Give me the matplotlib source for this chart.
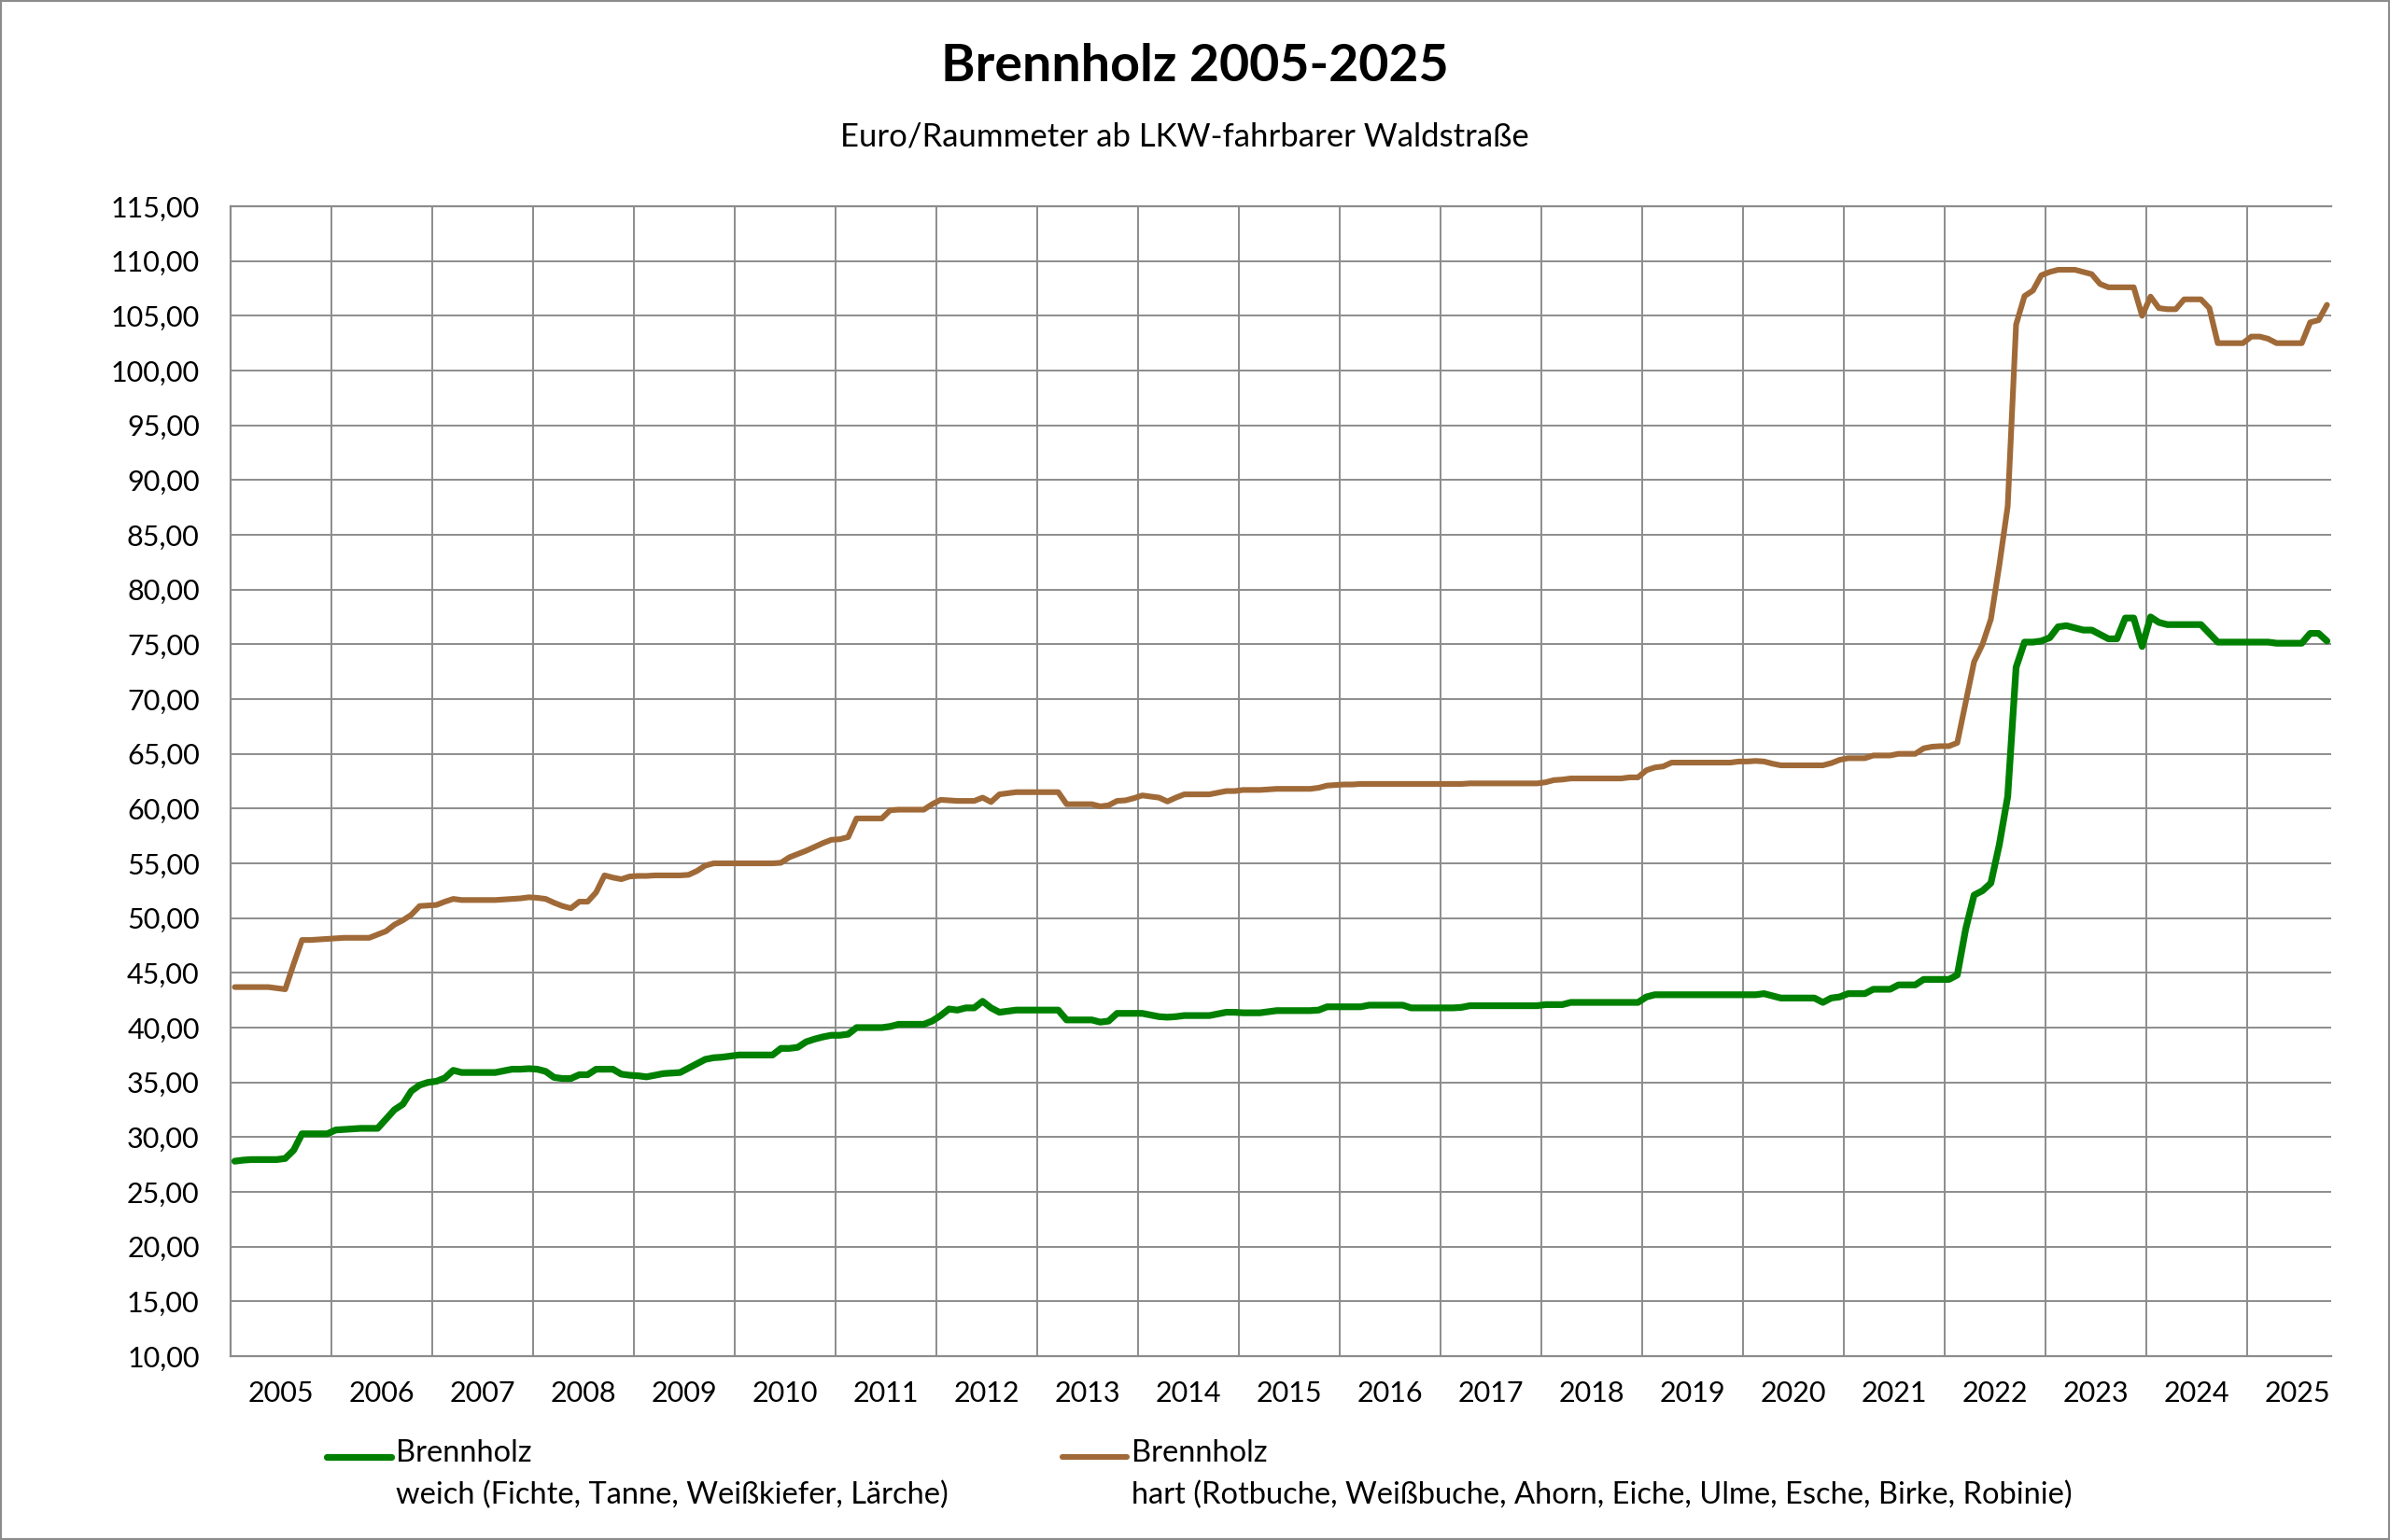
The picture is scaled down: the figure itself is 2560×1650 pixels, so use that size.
"""
Brennholz-Preise 2005-2025 (Euro/Raummeter ab LKW-fahrbarer Waldstrasse),
monthly values Jan 2005 - Oct 2025, weich vs. hart.
"""
import numpy as np
import matplotlib
matplotlib.use("Agg")
import matplotlib.pyplot as plt
from matplotlib.ticker import FuncFormatter, NullFormatter, MultipleLocator
from matplotlib.legend_handler import HandlerLine2D
from matplotlib.patches import Rectangle

START_YEAR = 2005
YEARS = list(range(2005, 2026))

# --- data: one row per year, Jan..Dec (2025 ends in October) ------------------

soft_prices = [
    27.8, 27.9, 27.95, 27.95, 27.95, 27.95, 28.05, 28.8, 30.3, 30.3, 30.3, 30.3,       # 2005
    30.65, 30.7, 30.75, 30.8, 30.8, 30.8, 31.65, 32.5, 33.0, 34.2, 34.75, 35.0,        # 2006
    35.1, 35.4, 36.1, 35.9, 35.9, 35.9, 35.9, 35.9, 36.05, 36.2, 36.2, 36.25,          # 2007
    36.2, 36.0, 35.45, 35.35, 35.35, 35.7, 35.7, 36.2, 36.2, 36.2, 35.75, 35.65,       # 2008
    35.6, 35.5, 35.65, 35.8, 35.85, 35.9, 36.3, 36.7, 37.1, 37.25, 37.3, 37.4,         # 2009
    37.5, 37.5, 37.5, 37.5, 37.5, 38.1, 38.1, 38.2, 38.7, 38.95, 39.15, 39.3,          # 2010
    39.3, 39.4, 40.0, 40.0, 40.0, 40.0, 40.1, 40.3, 40.3, 40.3, 40.3, 40.6,            # 2011
    41.1, 41.7, 41.6, 41.8, 41.8, 42.4, 41.8, 41.4, 41.5, 41.6, 41.6, 41.6,            # 2012
    41.6, 41.6, 41.6, 40.7, 40.7, 40.7, 40.7, 40.5, 40.6, 41.3, 41.3, 41.3,            # 2013
    41.3, 41.15, 41.0, 40.95, 41.0, 41.1, 41.1, 41.1, 41.1, 41.25, 41.4, 41.4,         # 2014
    41.35, 41.35, 41.35, 41.45, 41.55, 41.55, 41.55, 41.55, 41.55, 41.6, 41.9, 41.9,   # 2015
    41.9, 41.9, 41.9, 42.05, 42.05, 42.05, 42.05, 42.05, 41.8, 41.8, 41.8, 41.8,       # 2016
    41.8, 41.8, 41.85, 42.0, 42.0, 42.0, 42.0, 42.0, 42.0, 42.0, 42.0, 42.0,           # 2017
    42.1, 42.1, 42.1, 42.3, 42.3, 42.3, 42.3, 42.3, 42.3, 42.3, 42.3, 42.3,            # 2018
    42.8, 43.0, 43.0, 43.0, 43.0, 43.0, 43.0, 43.0, 43.0, 43.0, 43.0, 43.0,            # 2019
    43.0, 43.0, 43.1, 42.9, 42.7, 42.7, 42.7, 42.7, 42.7, 42.3, 42.7, 42.8,            # 2020
    43.1, 43.1, 43.1, 43.5, 43.5, 43.5, 43.9, 43.9, 43.9, 44.4, 44.4, 44.4,            # 2021
    44.4, 44.8, 49.0, 52.1, 52.5, 53.2, 56.7, 61.1, 72.9, 75.2, 75.2, 75.3,            # 2022
    75.6, 76.6, 76.7, 76.5, 76.3, 76.3, 75.9, 75.5, 75.5, 77.4, 77.4, 74.8,            # 2023
    77.5, 77.0, 76.8, 76.8, 76.8, 76.8, 76.8, 76.0, 75.2, 75.2, 75.2, 75.2,            # 2024
    75.2, 75.2, 75.2, 75.1, 75.1, 75.1, 75.1, 76.0, 76.0, 75.3,                        # 2025
]

hard_prices = [
    43.7, 43.7, 43.7, 43.7, 43.7, 43.6, 43.5, 45.8, 48.0, 48.0, 48.05, 48.1,           # 2005
    48.15, 48.2, 48.2, 48.2, 48.2, 48.5, 48.8, 49.4, 49.8, 50.3, 51.1, 51.15,          # 2006
    51.2, 51.5, 51.75, 51.65, 51.65, 51.65, 51.65, 51.65, 51.7, 51.75, 51.8, 51.9,     # 2007
    51.85, 51.75, 51.4, 51.1, 50.9, 51.5, 51.5, 52.35, 53.9, 53.7, 53.55, 53.8,        # 2008
    53.85, 53.85, 53.9, 53.9, 53.9, 53.9, 53.95, 54.3, 54.8, 55.0, 55.0, 55.0,         # 2009
    55.0, 55.0, 55.0, 55.0, 55.0, 55.05, 55.55, 55.85, 56.15, 56.5, 56.85, 57.15,      # 2010
    57.2, 57.4, 59.1, 59.1, 59.1, 59.1, 59.85, 59.9, 59.9, 59.9, 59.9, 60.4,           # 2011
    60.8, 60.75, 60.7, 60.7, 60.7, 61.0, 60.6, 61.3, 61.4, 61.5, 61.5, 61.5,           # 2012
    61.5, 61.5, 61.5, 60.4, 60.4, 60.4, 60.4, 60.2, 60.3, 60.7, 60.75, 60.95,          # 2013
    61.2, 61.1, 61.0, 60.65, 61.0, 61.3, 61.3, 61.3, 61.3, 61.45, 61.6, 61.6,          # 2014
    61.7, 61.7, 61.7, 61.75, 61.8, 61.8, 61.8, 61.8, 61.8, 61.9, 62.1, 62.15,          # 2015
    62.2, 62.2, 62.25, 62.25, 62.25, 62.25, 62.25, 62.25, 62.25, 62.25, 62.25, 62.25,  # 2016
    62.25, 62.25, 62.25, 62.3, 62.3, 62.3, 62.3, 62.3, 62.3, 62.3, 62.3, 62.3,         # 2017
    62.4, 62.6, 62.65, 62.75, 62.75, 62.75, 62.75, 62.75, 62.75, 62.75, 62.85, 62.85,  # 2018
    63.5, 63.75, 63.85, 64.2, 64.2, 64.2, 64.2, 64.2, 64.2, 64.2, 64.2, 64.3,          # 2019
    64.3, 64.35, 64.3, 64.1, 63.95, 63.95, 63.95, 63.95, 63.95, 63.95, 64.15, 64.45,   # 2020
    64.6, 64.6, 64.6, 64.85, 64.85, 64.85, 65.0, 65.0, 65.0, 65.5, 65.65, 65.7,        # 2021
    65.7, 66.0, 69.7, 73.4, 75.0, 77.3, 82.2, 87.6, 104.2, 106.8, 107.3, 108.7,        # 2022
    109.0, 109.2, 109.2, 109.2, 109.0, 108.8, 107.9, 107.6, 107.6, 107.6, 107.6, 105.0,  # 2023
    106.75, 105.7, 105.6, 105.6, 106.5, 106.5, 106.5, 105.7, 102.5, 102.5, 102.5, 102.5,  # 2024
    103.1, 103.1, 102.9, 102.5, 102.5, 102.5, 102.5, 104.4, 104.6, 106.0,              # 2025
]

soft_label = "Brennholz\nweich (Fichte, Tanne, Weißkiefer, Lärche)"
hard_label = "Brennholz\nhart (Rotbuche, Weißbuche, Ahorn, Eiche, Ulme, Esche, Birke, Robinie)"
title = "Brennholz 2005-2025"
subtitle = "Euro/Raummeter ab LKW-fahrbarer Waldstraße"

SOFT_COLOR = "#008000"
HARD_COLOR = "#A06A38"
GRID_COLOR = "#8c8c8c"
LEGEND_SIZE = 23.5
LEGEND_LINESPACING = 1.6

plt.rcParams["font.family"] = ["Lato", "DejaVu Sans"]

n_months = len(soft_prices)
# points sit in the middle of their month
x = START_YEAR + (np.arange(n_months) + 0.5) / 12


class FirstLineHandler(HandlerLine2D):
    """legend line next to the first line of a two-line label"""
    def create_artists(self, legend, orig_handle, xdescent, ydescent,
                       width, height, fontsize, trans):
        artists = super().create_artists(legend, orig_handle, xdescent, ydescent,
                                         width, height, fontsize, trans)
        for a in artists:
            a.set_ydata(np.asarray(a.get_ydata()) + 0.6 * fontsize)
        return artists


W, H = 2560, 1650
fig = plt.figure(figsize=(W / 100, H / 100), dpi=100)
ax = fig.add_axes([247 / W, 1 - 1453 / H, (2497 - 247) / W, (1453 - 221) / H])

soft_line, = ax.plot(x, soft_prices, color=SOFT_COLOR, lw=5.2,
                     solid_joinstyle="round", solid_capstyle="round", zorder=3)
hard_line, = ax.plot(x, hard_prices, color=HARD_COLOR, lw=4.4,
                     solid_joinstyle="round", solid_capstyle="round", zorder=3)

ax.set_xlim(START_YEAR, START_YEAR + n_months / 12)
ax.set_ylim(10, 115)
ax.yaxis.set_major_locator(MultipleLocator(5))
ax.yaxis.set_major_formatter(FuncFormatter(lambda v, p: f"{v:.2f}".replace(".", ",")))

ax.set_xticks(YEARS)
ax.xaxis.set_major_formatter(NullFormatter())
ax.set_xticks([y + 0.5 for y in YEARS], minor=True)
ax.set_xticklabels([str(y) for y in YEARS], minor=True)

ax.tick_params(axis="both", which="both", length=0, labelsize=22, colors="black")
ax.tick_params(axis="y", pad=24)
ax.tick_params(axis="x", which="minor", pad=19)

ax.grid(True, which="major", color=GRID_COLOR, lw=1.4)
ax.set_axisbelow(True)
for side in ["left", "bottom", "top"]:
    ax.spines[side].set_color(GRID_COLOR)
    ax.spines[side].set_linewidth(1.6)
ax.spines["right"].set_visible(False)

fig.text(0.5, 1 - 87 / H, title, ha="center", va="baseline",
         fontsize=40, fontweight="bold")
fig.text(1269 / W, 1 - 157 / H, subtitle, ha="center", va="baseline", fontsize=25)

for line, label, x0 in [(soft_line, soft_label, 350), (hard_line, hard_label, 1138)]:
    leg = fig.legend(handles=[line], labels=[label], loc="upper left",
                     bbox_to_anchor=(x0 / W, 1 - 1542 / H), frameon=False,
                     borderpad=0, borderaxespad=0, fontsize=LEGEND_SIZE,
                     handlelength=2.1, handletextpad=0.16,
                     handler_map={line: FirstLineHandler()})
    for t in leg.get_texts():
        t.set_linespacing(LEGEND_LINESPACING)

fig.add_artist(Rectangle((0, 0), 1, 1, transform=fig.transFigure, fill=False,
                         edgecolor=GRID_COLOR, lw=3))

fig.savefig("out.png", dpi=100)
